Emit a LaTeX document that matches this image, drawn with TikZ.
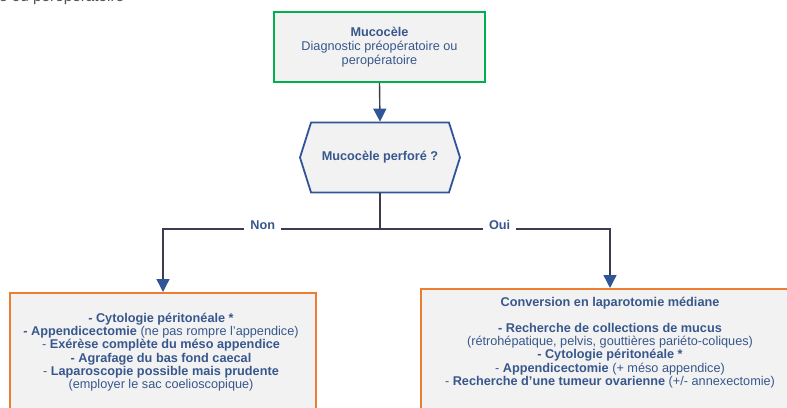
\documentclass[tikz,border=0pt]{standalone}
\usepackage{fontspec}
\setmainfont{Liberation Sans}
\definecolor{txtblue}{RGB}{56,87,140}
\definecolor{boxgray}{RGB}{242,242,242}
\definecolor{boxgreen}{RGB}{0,176,80}
\definecolor{boxorange}{RGB}{237,125,49}
\definecolor{hexblue}{RGB}{47,85,151}
\definecolor{linegray}{RGB}{60,60,78}
\definecolor{capgray}{RGB}{80,80,80}
\usetikzlibrary{arrows.meta, positioning, shapes.symbols}

\begin{document}
\begin{tikzpicture}[x=1pt, y=-1pt,
  every node/.style={font=\fontsize{12.7}{13.2}\selectfont, text=txtblue},
  greenbox/.style={draw=boxgreen, line width=2pt, fill=boxgray, align=center},
  orangebox/.style={draw=boxorange, line width=2pt, fill=boxgray},
  hexbox/.style={signal, signal to=west and east, signal pointer angle=145, draw=hexblue, line width=1.8pt, fill=boxgray, font=\fontsize{12.7}{13.2}\selectfont\bfseries},
  boxtext/.style={align=center, inner sep=0pt},
  lbl/.style={fill=white, anchor=base, inner xsep=6pt, inner ysep=2pt, font=\fontsize{12.7}{13.2}\selectfont\bfseries},
  line/.style={draw=linegray, line width=1.5pt},
  conn/.style={draw=linegray, line width=1.4pt, -{Triangle[width=13pt, length=13pt, color=hexblue]}}]
  \useasboundingbox (0,0) rectangle (787,407);
  \clip (0,0) rectangle (787,407);

  % caption cut off at the top
  \node[anchor=base west, inner sep=0pt, text=capgray, font=\fontsize{15.3}{16}\selectfont] (cap) at (-1,1.5) {e ou peropératoire};

  % Diagnostic
  \node[greenbox, minimum width=211pt, minimum height=70pt, font=\fontsize{12.7}{14}\selectfont] (diag) at (379.5,47) {\textbf{Mucocèle}\\Diagnostic préopératoire ou\\peropératoire};

  % Question
  \node[hexbox, minimum width=160pt, minimum height=70pt] (hexa) at (380,157.5) {Mucocèle perforé ?};

  % Non
  \node[orangebox, minimum width=306pt, minimum height=130pt] (nonbox) at (163,358) {};
  \node[boxtext, below=21pt of nonbox.north, xshift=-2pt] (nontxt) {\textbf{- Cytologie péritonéale *}\\
    \textbf{- Appendicectomie} (ne pas rompre l'appendice)\\
    - \textbf{Exérèse complète du méso appendice}\\
    \textbf{- Agrafage du bas fond caecal}\\
    - \textbf{Laparoscopie possible mais prudente}\\
    (employer le sac coelioscopique)};

  % Oui
  \node[orangebox, minimum width=378pt, minimum height=130pt] (ouibox) at (610,354) {};
  \node[boxtext, below=9pt of ouibox.north] (ouitxt) {\textbf{Conversion en laparotomie médiane}\\[12.8pt]
    \textbf{- Recherche de collections de mucus}\\
    (rétrohépatique, pelvis, gouttières pariéto-coliques)\\
    \textbf{- Cytologie péritonéale *}\\
    - \textbf{Appendicectomie} (+ méso appendice)\\
    - \textbf{Recherche d'une tumeur ovarienne} (+/- annexectomie)};

  % Connectors
  \coordinate (split) at (hexa.south |- 0,229);
  \draw[conn] (diag.south) -- (hexa.north);
  \draw[line] (hexa.south) -- (split);
  \draw[conn] (split) -| node[lbl, pos=0.27] (nonlbl) {Non} (nonbox.north);
  \draw[conn] (split) -| node[lbl, pos=0.26] (ouilbl) {Oui} (ouibox.north);
\end{tikzpicture}
\end{document}
